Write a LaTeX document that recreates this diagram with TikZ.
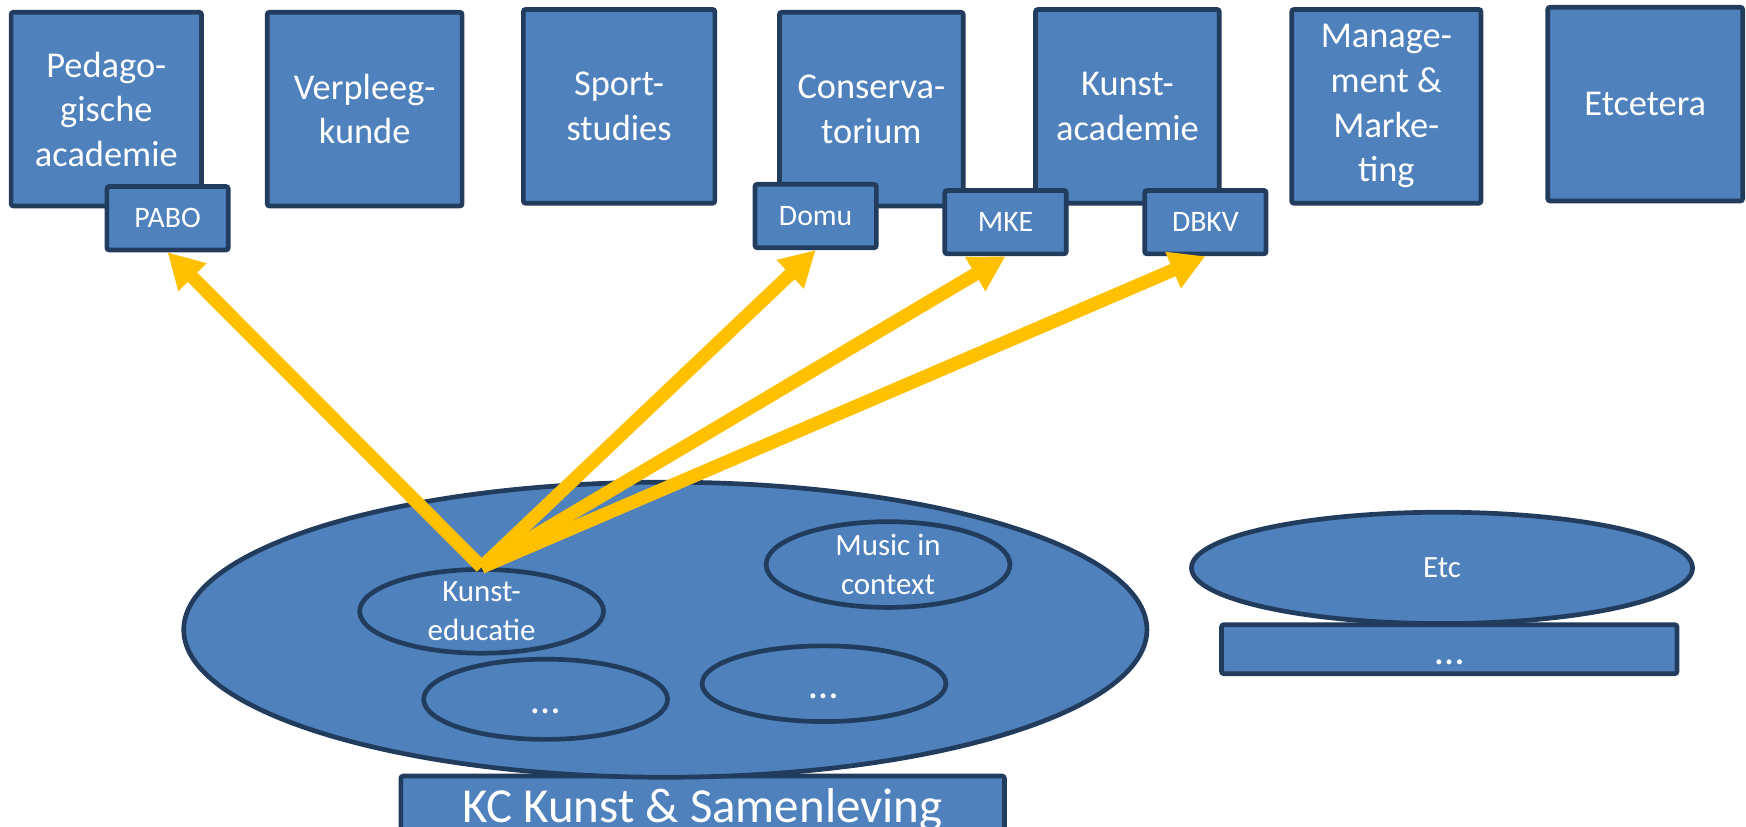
\documentclass[tikz,border=0pt]{standalone}
\usepackage{fontspec}
\setmainfont{Carlito}
\usetikzlibrary{arrows.meta,shapes.geometric}
\definecolor{CBlue}{HTML}{4F81BD}
\definecolor{CNavy}{HTML}{223C5E}
\definecolor{CYellow}{HTML}{FFC000}

\newcommand{\lowdots}[1]{\raisebox{#1}[0pt][0pt]{\fontsize{10.5}{12}\selectfont …}}

\tikzset{
    faculty/.style={draw=CNavy, fill=CBlue, line width=1.2pt, text=white, align=center,
        rounded corners=0.6pt, inner sep=2pt, minimum width=1.71cm, minimum height=1.74cm,
        font=\fontsize{9.3}{11.4}\selectfont},
    course/.style={draw=CNavy, fill=CBlue, line width=1.2pt, text=white, align=center,
        rounded corners=0.6pt, minimum width=1.09cm, minimum height=0.57cm,
        font=\fontsize{7.6}{9}\selectfont},
    program/.style={ellipse, draw=CNavy, fill=CBlue, line width=1.2pt, text=white, align=center,
        inner sep=0pt, minimum width=2.19cm, minimum height=0.66cm,
        font=\fontsize{7.9}{10}\selectfont},
    link/.style={draw=CYellow, line width=3.4pt, -{Triangle[length=9pt, width=9.5pt]}}
}

\begin{document}
\begin{tikzpicture}
    \useasboundingbox (0, 0) rectangle (15.68, -7.42);
    \clip (0, 0) rectangle (15.68, -7.42);

    \node [faculty]                      (ped)      at (0.955, -0.98)  {Pedago-\\gische\\academie};
    \node [faculty, minimum width=1.75cm] (verpleeg) at (3.275, -0.98)  {Verpleeg-\\kunde};
    \node [faculty, minimum width=1.72cm] (sport)    at (5.56, -0.955)  {Sport-\\studies};
    \node [faculty, minimum width=1.65cm] (conserv)  at (7.825, -0.98)  {Conserva-\\torium};
    \node [faculty, minimum width=1.65cm] (kunstac)  at (10.125, -0.955) {Kunst-\\academie};
    \node [faculty, minimum width=1.70cm] (manmark)  at (12.45, -0.955)  {Manage-\\ment \&\\Marke-\\ting};
    \node [faculty, minimum width=1.75cm] (etcetera) at (14.775, -0.935) {Etcetera};

    \node [course] (pabo) at (1.505, -1.96)  {PABO};
    \node [course] (domu) at (7.325, -1.94)  {Domu};
    \node [course] (mke)  at (9.03, -1.995)  {MKE};
    \node [course] (dbkv) at (10.825, -1.995) {DBKV};

    \node [course, minimum width=5.42cm, minimum height=0.62cm, text height=8.5pt, text depth=2.5pt,
        font=\fontsize{12.5}{15}\selectfont] (kcname) at (6.31, -7.28) {KC Kunst \& Samenleving};
    \node [program, minimum width=8.65cm, minimum height=2.65cm] (kc) at (5.975, -5.655) {};

    \node [program, minimum height=0.70cm] (kunsted) at (4.325, -5.49) {Kunst-\\educatie};
    \node [program]                        (music)   at (7.975, -5.07) {Music in\\context};
    \node [program, minimum height=0.72cm] (dotsa)   at (4.9, -6.28)   {\lowdots{-1.3mm}};
    \node [program, minimum height=0.68cm] (dotsb)   at (7.4, -6.14)   {\lowdots{-1.3mm}};

    \node [program, minimum width=4.5cm, minimum height=1.0cm] (etc) at (12.95, -5.1) {Etc};
    \node [course, minimum width=4.09cm, minimum height=0.44cm] (etcdots) at (13.015, -5.83) {\lowdots{-1.4mm}};

    \draw [link] (kunsted.north) -- (pabo.south);
    \draw [link] (kunsted.north) -- (domu.south);
    \draw [link] (kunsted.north) -- (mke.south);
    \draw [link] (kunsted.north) -- (dbkv.south);
\end{tikzpicture}
\end{document}
